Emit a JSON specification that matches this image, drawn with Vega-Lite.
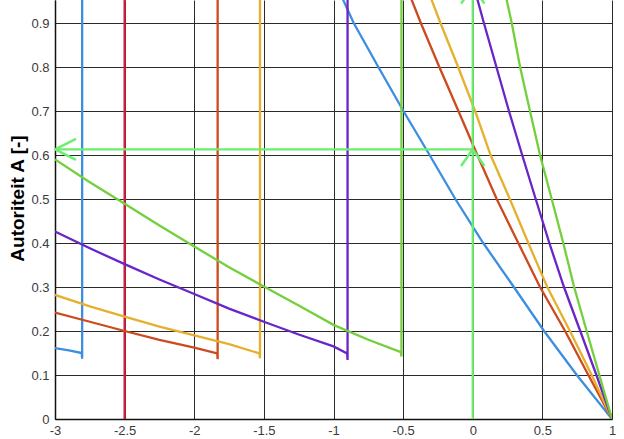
{
  "$schema": "https://vega.github.io/schema/vega-lite/v6.json",
  "width": 557,
  "height": 419,
  "autosize": {"type": "none"},
  "padding": {"left": 55, "top": 0, "right": 12, "bottom": 20},
  "background": "white",
  "config": {
    "view": {"stroke": null},
    "axis": {
      "labelFont": "Liberation Sans",
      "labelFontSize": 13,
      "labelColor": "#3a3a3a",
      "labelFlush": false,
      "gridColor": "#2a2a2a",
      "gridOpacity": 1,
      "gridWidth": 1,
      "domainColor": "#111111",
      "domainWidth": 1.5,
      "ticks": false
    }
  },
  "datasets": {
    "lines": [
      {"s": "crimson", "i": 1, "x": -2.5, "y": 0},
      {"s": "crimson", "i": 2, "x": -2.5, "y": 1},

      {"s": "blue", "i": 1, "x": -3, "y": 0.161},
      {"s": "blue", "i": 2, "x": -2.9, "y": 0.156},
      {"s": "blue", "i": 3, "x": -2.808, "y": 0.15},
      {"s": "blue", "i": 4, "x": -2.805, "y": 0.137},
      {"s": "blue", "i": 5, "x": -2.805, "y": 1.0},
      {"s": "blue", "i": 6, "x": -0.995, "y": 1.0},
      {"s": "blue", "i": 7, "x": -0.93, "y": 0.952},
      {"s": "blue", "i": 8, "x": -0.855, "y": 0.9},
      {"s": "blue", "i": 9, "x": -0.678, "y": 0.8},
      {"s": "blue", "i": 10, "x": -0.498, "y": 0.7},
      {"s": "blue", "i": 11, "x": -0.31, "y": 0.6},
      {"s": "blue", "i": 12, "x": -0.125, "y": 0.5},
      {"s": "blue", "i": 13, "x": 0.075, "y": 0.4},
      {"s": "blue", "i": 14, "x": 0.295, "y": 0.3},
      {"s": "blue", "i": 15, "x": 0.512, "y": 0.2},
      {"s": "blue", "i": 16, "x": 0.747, "y": 0.1},
      {"s": "blue", "i": 17, "x": 1, "y": 0},

      {"s": "red", "i": 1, "x": -3, "y": 0.242},
      {"s": "red", "i": 2, "x": -2.75, "y": 0.221},
      {"s": "red", "i": 3, "x": -2.5, "y": 0.2},
      {"s": "red", "i": 4, "x": -2.25, "y": 0.18},
      {"s": "red", "i": 5, "x": -2, "y": 0.162},
      {"s": "red", "i": 6, "x": -1.835, "y": 0.149},
      {"s": "red", "i": 7, "x": -1.832, "y": 0.136},
      {"s": "red", "i": 8, "x": -1.832, "y": 1.0},
      {"s": "red", "i": 9, "x": -0.5, "y": 1.0},
      {"s": "red", "i": 10, "x": -0.438, "y": 0.952},
      {"s": "red", "i": 11, "x": -0.373, "y": 0.9},
      {"s": "red", "i": 12, "x": -0.24, "y": 0.8},
      {"s": "red", "i": 13, "x": -0.103, "y": 0.7},
      {"s": "red", "i": 14, "x": 0.033, "y": 0.6},
      {"s": "red", "i": 15, "x": 0.172, "y": 0.5},
      {"s": "red", "i": 16, "x": 0.327, "y": 0.4},
      {"s": "red", "i": 17, "x": 0.483, "y": 0.3},
      {"s": "red", "i": 18, "x": 0.663, "y": 0.2},
      {"s": "red", "i": 19, "x": 0.83, "y": 0.1},
      {"s": "red", "i": 20, "x": 1, "y": 0},

      {"s": "yellow", "i": 1, "x": -3, "y": 0.282},
      {"s": "yellow", "i": 2, "x": -2.75, "y": 0.256},
      {"s": "yellow", "i": 3, "x": -2.5, "y": 0.2326},
      {"s": "yellow", "i": 4, "x": -2.25, "y": 0.21},
      {"s": "yellow", "i": 5, "x": -2, "y": 0.19},
      {"s": "yellow", "i": 6, "x": -1.75, "y": 0.17},
      {"s": "yellow", "i": 7, "x": -1.532, "y": 0.149},
      {"s": "yellow", "i": 8, "x": -1.528, "y": 0.138},
      {"s": "yellow", "i": 9, "x": -1.528, "y": 1.0},
      {"s": "yellow", "i": 10, "x": -0.355, "y": 1.0},
      {"s": "yellow", "i": 11, "x": -0.295, "y": 0.952},
      {"s": "yellow", "i": 12, "x": -0.232, "y": 0.9},
      {"s": "yellow", "i": 13, "x": -0.105, "y": 0.8},
      {"s": "yellow", "i": 14, "x": 0.017, "y": 0.7},
      {"s": "yellow", "i": 15, "x": 0.128, "y": 0.6},
      {"s": "yellow", "i": 16, "x": 0.266, "y": 0.5},
      {"s": "yellow", "i": 17, "x": 0.399, "y": 0.4},
      {"s": "yellow", "i": 18, "x": 0.535, "y": 0.3},
      {"s": "yellow", "i": 19, "x": 0.698, "y": 0.2},
      {"s": "yellow", "i": 20, "x": 0.854, "y": 0.1},
      {"s": "yellow", "i": 21, "x": 1, "y": 0},

      {"s": "purple", "i": 1, "x": -3, "y": 0.426},
      {"s": "purple", "i": 2, "x": -2.75, "y": 0.388},
      {"s": "purple", "i": 3, "x": -2.5, "y": 0.352},
      {"s": "purple", "i": 4, "x": -2.25, "y": 0.317},
      {"s": "purple", "i": 5, "x": -2, "y": 0.284},
      {"s": "purple", "i": 6, "x": -1.75, "y": 0.251},
      {"s": "purple", "i": 7, "x": -1.5, "y": 0.221},
      {"s": "purple", "i": 8, "x": -1.25, "y": 0.192},
      {"s": "purple", "i": 9, "x": -1, "y": 0.165},
      {"s": "purple", "i": 10, "x": -0.902, "y": 0.149},
      {"s": "purple", "i": 11, "x": -0.899, "y": 0.134},
      {"s": "purple", "i": 12, "x": -0.899, "y": 1.0},
      {"s": "purple", "i": 13, "x": -0.01, "y": 1.0},
      {"s": "purple", "i": 14, "x": 0.035, "y": 0.952},
      {"s": "purple", "i": 15, "x": 0.08, "y": 0.9},
      {"s": "purple", "i": 16, "x": 0.17, "y": 0.8},
      {"s": "purple", "i": 17, "x": 0.26, "y": 0.7},
      {"s": "purple", "i": 18, "x": 0.355, "y": 0.6},
      {"s": "purple", "i": 19, "x": 0.452, "y": 0.5},
      {"s": "purple", "i": 20, "x": 0.55, "y": 0.4},
      {"s": "purple", "i": 21, "x": 0.655, "y": 0.3},
      {"s": "purple", "i": 22, "x": 0.772, "y": 0.2},
      {"s": "purple", "i": 23, "x": 0.888, "y": 0.1},
      {"s": "purple", "i": 24, "x": 1, "y": 0},

      {"s": "green", "i": 1, "x": -3, "y": 0.59},
      {"s": "green", "i": 2, "x": -2.75, "y": 0.538},
      {"s": "green", "i": 3, "x": -2.5, "y": 0.489},
      {"s": "green", "i": 4, "x": -2.25, "y": 0.44},
      {"s": "green", "i": 5, "x": -2, "y": 0.392},
      {"s": "green", "i": 6, "x": -1.75, "y": 0.345},
      {"s": "green", "i": 7, "x": -1.5, "y": 0.301},
      {"s": "green", "i": 8, "x": -1.25, "y": 0.258},
      {"s": "green", "i": 9, "x": -1, "y": 0.214},
      {"s": "green", "i": 10, "x": -0.75, "y": 0.18},
      {"s": "green", "i": 11, "x": -0.516, "y": 0.152},
      {"s": "green", "i": 12, "x": -0.512, "y": 0.142},
      {"s": "green", "i": 13, "x": -0.512, "y": 1.0},
      {"s": "green", "i": 14, "x": 0.21, "y": 1.0},
      {"s": "green", "i": 15, "x": 0.244, "y": 0.952},
      {"s": "green", "i": 16, "x": 0.28, "y": 0.9},
      {"s": "green", "i": 17, "x": 0.34, "y": 0.8},
      {"s": "green", "i": 18, "x": 0.411, "y": 0.7},
      {"s": "green", "i": 19, "x": 0.483, "y": 0.6},
      {"s": "green", "i": 20, "x": 0.567, "y": 0.5},
      {"s": "green", "i": 21, "x": 0.65, "y": 0.4},
      {"s": "green", "i": 22, "x": 0.728, "y": 0.3},
      {"s": "green", "i": 23, "x": 0.818, "y": 0.2},
      {"s": "green", "i": 24, "x": 0.909, "y": 0.1},
      {"s": "green", "i": 25, "x": 1, "y": 0},

      {"s": "guideV", "i": 1, "x": 0, "y": 0},
      {"s": "guideV", "i": 2, "x": 0, "y": 0.982},
      {"s": "guideH", "i": 1, "x": 0, "y": 0.613},
      {"s": "guideH", "i": 2, "x": -3, "y": 0.613}
    ]
  },
  "layer": [
    {
      "data": {"name": "lines"},
      "mark": {"type": "line", "clip": true, "strokeWidth": 2.3, "strokeJoin": "miter"},
      "encoding": {
        "x": {
          "field": "x", "type": "quantitative",
          "scale": {"domain": [-3, 1], "nice": false, "zero": false},
          "axis": {
            "title": null,
            "values": [-3, -2.5, -2, -1.5, -1, -0.5, 0, 0.5, 1],
            "labelExpr": "datum.value + ''",
            "labelPadding": 5,
            "grid": true
          }
        },
        "y": {
          "field": "y", "type": "quantitative",
          "scale": {"domain": [0, 0.9523], "nice": false, "zero": false},
          "axis": {
            "title": "Autoriteit A [-]",
            "titleFont": "Liberation Sans",
            "titleFontSize": 19,
            "titleFontWeight": "bold",
            "titleColor": "#000000",
            "titleAngle": -90,
            "titleAlign": "center",
            "titleBaseline": "bottom",
            "titleX": -28,
            "titleY": 198,
            "values": [0, 0.1, 0.2, 0.3, 0.4, 0.5, 0.6, 0.7, 0.8, 0.9],
            "labelExpr": "datum.value + ''",
            "labelPadding": 6,
            "grid": true
          }
        },
        "color": {
          "field": "s", "type": "nominal", "legend": null,
          "scale": {
            "domain": ["crimson", "blue", "red", "yellow", "purple", "green", "guideV", "guideH"],
            "range": ["#d11f3a", "#3c8ee0", "#cc4a1e", "#e6b02e", "#6a25c9", "#73d03c", "#6cee70", "#6cee70"]
          }
        },
        "order": {"field": "i", "type": "quantitative"}
      }
    },
    {
      "data": {"values": [{"x": -3, "y": 0.613}]},
      "mark": {"type": "point", "clip": true, "filled": false, "shape": "M0,0L2,-1M0,0L2,1", "size": 441, "stroke": "#6cee70", "strokeWidth": 2.5, "opacity": 1},
      "encoding": {
        "x": {"field": "x", "type": "quantitative"},
        "y": {"field": "y", "type": "quantitative"}
      }
    },
    {
      "data": {"values": [{"x": 0, "y": 0.613}, {"x": 0, "y": 0.982}]},
      "mark": {"type": "point", "clip": true, "filled": false, "shape": "M0,0L-0.7,1M0,0L0.7,1", "size": 1115, "stroke": "#6cee70", "strokeWidth": 2.5, "opacity": 1},
      "encoding": {
        "x": {"field": "x", "type": "quantitative"},
        "y": {"field": "y", "type": "quantitative"}
      }
    }
  ]
}
